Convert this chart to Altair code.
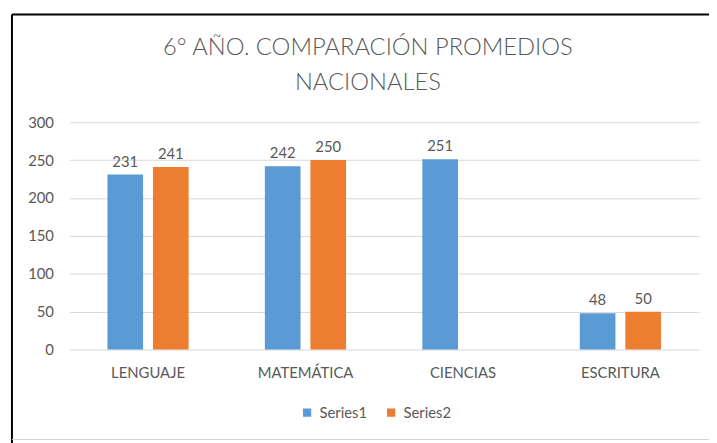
import altair as alt
import pandas as pd

title_lines = ["6° AÑO. COMPARACIÓN PROMEDIOS", "NACIONALES"]
categories = ["LENGUAJE", "MATEMÁTICA", "CIENCIAS", "ESCRITURA"]
series_names = ["Series1", "Series2"]
series1 = [231, 242, 251, 48]
series2 = [241, 250, None, 50]

rows = []
for c, v1, v2 in zip(categories, series1, series2):
    if v1 is not None:
        rows.append({"cat": c, "series": "Series1", "value": v1})
    if v2 is not None:
        rows.append({"cat": c, "series": "Series2", "value": v2})
df = pd.DataFrame(rows)

FONT = "Lato"
GREY = "#595959"

x = alt.X("cat:N", sort=categories, title=None,
          scale=alt.Scale(paddingInner=0, paddingOuter=0),
          axis=alt.Axis(labelAngle=0, domain=False, ticks=False, labelPadding=16,
                        labelFontSize=15, labelColor=GREY, labelFont=FONT))
xo = alt.XOffset("series:N", sort=series_names,
                 scale=alt.Scale(paddingInner=0.217, paddingOuter=0.837))
y = alt.Y("value:Q", title=None,
          scale=alt.Scale(domain=[0, 300]),
          axis=alt.Axis(values=[0, 50, 100, 150, 200, 250, 300], domain=False, ticks=False,
                        labelPadding=16, labelFontSize=15, labelColor=GREY, labelFont=FONT,
                        gridColor="#d9d9d9"))

base = alt.Chart(df)
bars = base.mark_bar().encode(
    x=x, xOffset=xo, y=y,
    color=alt.Color("series:N", sort=series_names,
                    scale=alt.Scale(domain=series_names, range=["#5B9BD5", "#ED7D31"]),
                    legend=alt.Legend(title=None, orient="none", legendX=233, legendY=286,
                                      direction="horizontal", symbolType="square",
                                      symbolSize=70, symbolStrokeWidth=0,
                                      labelFontSize=15, labelColor=GREY, labelFont=FONT,
                                      columnPadding=16, labelOffset=5)),
)
labels = base.mark_text(baseline="bottom", dy=-5, fontSize=15, color=GREY, font=FONT).encode(
    x=x, xOffset=xo, y=y, text=alt.Text("value:Q"))

frame = pd.DataFrame({"k": [0]})
title = alt.Chart(frame).mark_text(
    text=title_lines, fontSize=24, font=FONT, fontWeight=300, color=GREY, align="center",
    baseline="alphabetic", lineHeight=35).encode(
    x=alt.value(302), y=alt.value(-68))
left = alt.Chart(frame).mark_rule(color="black", strokeWidth=2).encode(
    x=alt.value(-58), y=alt.value(-109), y2=alt.value(330))
top = alt.Chart(frame).mark_rule(color="black", strokeWidth=2).encode(
    x=alt.value(-58), x2=alt.value(660), y=alt.value(-109))
bottom = alt.Chart(frame).mark_rule(color="#d0d0d0", strokeWidth=1).encode(
    x=alt.value(-58), x2=alt.value(660), y=alt.value(321))

chart = alt.layer(bars, labels, title, left, top, bottom).properties(
    width=637, height=230,
    autosize=alt.AutoSizeParams(type="none"),
    padding={"left": 62, "top": 113, "right": 10, "bottom": 92},
).configure(background="white").configure_view(stroke=None)

chart.save("out.html", embed_options={"renderer": "svg", "actions": False})
